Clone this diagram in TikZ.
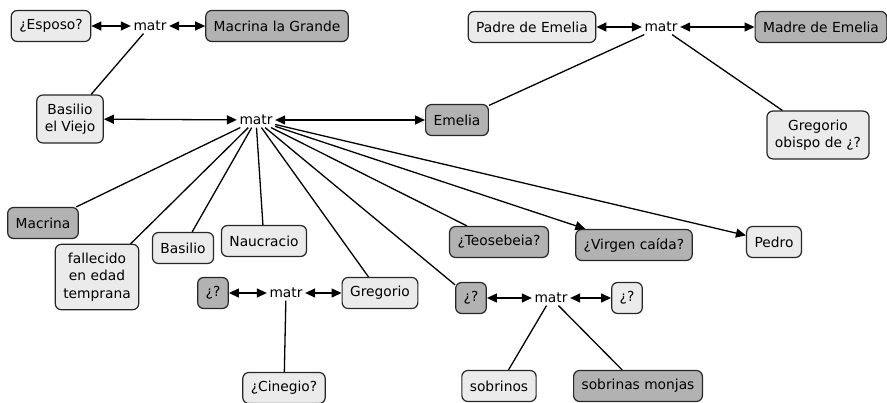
\documentclass[tikz,border=0pt]{standalone}
\usepackage{fontspec}
\setmainfont{DejaVu Sans}
\usetikzlibrary{arrows.meta}

\begin{document}
\begin{tikzpicture}[>={Triangle[length=10pt,width=9pt]}, x=1pt, y=-1pt, line width=1.3pt,
		concept/.style={draw=black!85, line width=1.2pt, rounded corners=6pt, align=center, inner xsep=8pt, inner ysep=8.5pt, minimum height=31pt, font=\fontsize{13.8}{17.5}\selectfont},
		dark/.style={concept, fill=black!30},
		light/.style={concept, fill=black!8},
		link/.style={inner sep=2pt, font=\fontsize{13.8}{17.5}\selectfont}]
		\useasboundingbox (0,0) rectangle (887,403);
		% top left couple
		\node[light] (esposo) at (51,26) {¿Esposo?};
		\node[link] (matrA) at (150,26) {matr};
		\node[dark] (grande) at (277,26) {Macrina la Grande};
		\node[light] (viejo) at (70,119) {Basilio\\el Viejo};
		% top right couple
		\node[light] (padre) at (532,27) {Padre de Emelia};
		\node[link] (matrB) at (661,27) {matr};
		\node[dark] (madre) at (821,27) {Madre de Emelia};
		\node[light] (obispo) at (818,135) {Gregorio\\obispo de ¿?};
		% main couple
		\node[link] (matrC) at (256,120) {matr};
		\node[dark] (emelia) at (457,120) {Emelia};
		% children
		\node[dark] (macrina) at (43,223) {Macrina};
		\node[light] (fallecido) at (97,277) {fallecido\\en edad\\temprana};
		\node[light] (basilio) at (183,248) {Basilio};
		\node[light] (naucracio) at (264,241) {Naucracio};
		\node[light] (gregorio) at (380,293) {Gregorio};
		\node[dark] (teosebeia) at (499,242) {¿Teosebeia?};
		\node[dark] (virgen) at (634,245) {¿Virgen caída?};
		\node[light] (pedro) at (774,242) {Pedro};
		\node[dark] (hija) at (471,298) {¿?};
		% Gregorio's couple
		\node[dark] (esposa) at (213,293) {¿?};
		\node[link] (matrD) at (286,293) {matr};
		\node[light] (cinegio) at (284,388) {¿Cinegio?};
		% daughter's couple
		\node[link] (matrE) at (551,298) {matr};
		\node[light] (yerno) at (627,298) {¿?};
		\node[light] (sobrinos) at (499,386) {sobrinos};
		\node[dark] (monjas) at (638,386) {sobrinas monjas};

		\draw[<->] (esposo) -- (matrA);
		\draw[<->] (matrA) -- (grande);
		\draw (matrA) -- (viejo);
		\draw[<->] (padre) -- (matrB);
		\draw[<->] (matrB) -- (madre);
		\draw (matrB) -- (emelia);
		\draw (matrB) -- (obispo);
		\draw[<->] (viejo) -- (matrC);
		\draw[<->] (matrC) -- (emelia);
		\draw (matrC) -- (macrina);
		\draw (matrC) -- (fallecido);
		\draw (matrC) -- (basilio);
		\draw (matrC) -- (naucracio);
		\draw (matrC) -- (gregorio);
		\draw (matrC) -- (hija);
		\draw (matrC) -- (teosebeia);
		\draw[->] (matrC) -- (virgen);
		\draw[->] (matrC) -- (pedro);
		\draw[<->] (esposa) -- (matrD);
		\draw[<->] (matrD) -- (gregorio);
		\draw (matrD) -- (cinegio);
		\draw[<->] (hija) -- (matrE);
		\draw[<->] (matrE) -- (yerno);
		\draw (matrE) -- (sobrinos);
		\draw (matrE) -- (monjas);
\end{tikzpicture}
\end{document}
